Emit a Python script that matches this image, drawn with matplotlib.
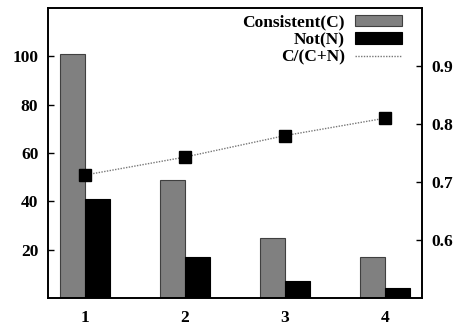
import matplotlib
matplotlib.use("Agg")
import matplotlib.pyplot as plt
import numpy as np
from matplotlib.lines import Line2D

groups = [1, 2, 3, 4]
consistent = [101, 49, 25, 17]
not_cons = [41, 17, 7, 4]
ratio = [0.712, 0.743, 0.78, 0.81]
left_ticks = [20, 40, 60, 80, 100]
right_ticks = [0.6, 0.7, 0.8, 0.9]

plt.rcParams['font.family'] = ['Liberation Serif', 'DejaVu Serif']
plt.rcParams['font.weight'] = 'bold'
plt.rcParams['font.size'] = 12.5

fig = plt.figure(figsize=(4.54, 3.26), dpi=100)
ax = fig.add_axes([48/454, 1-298/326, 374/454, 290/326])
x = np.array(groups, dtype=float)
w = 0.25
b1 = ax.bar(x - w/2, consistent, width=w, color='#808080', edgecolor='#404040', linewidth=0.8, label='Consistent(C)')
b2 = ax.bar(x + w/2, not_cons, width=w, color='black', edgecolor='black', linewidth=0.8, label='Not(N)')
ax.set_xlim(0.63, 4.37)
ax.set_ylim(0, 120)
ax.set_xticks(groups)
ax.set_xticklabels([str(g) for g in groups], fontweight='bold')
ax.set_yticks(left_ticks)
ax.tick_params(axis='y', direction='in', length=4, width=1, pad=7, labelsize=12.5)
ax.tick_params(axis='x', length=0, pad=9, labelsize=12.5)

ax2 = ax.twinx()
ax2.plot(x, ratio, color='#777777', linestyle=(0, (1, 1)), linewidth=1.0,
         marker='s', markersize=9, markerfacecolor='black', markeredgecolor='black',
         label='C/(C+N)')
ax2.set_ylim(0.5, 1.0)
ax2.set_yticks(right_ticks)
ax2.set_yticklabels(['0.6', '0.7', '0.8', '0.9'])
ax2.tick_params(axis='y', direction='in', length=4, width=1, pad=7, labelsize=12.5)

for a in (ax, ax2):
    for s in a.spines.values():
        s.set_linewidth(1.2)

line_handle = Line2D([], [], color='#777777', linestyle=(0, (1, 1)), linewidth=1.0)
leg = ax2.legend([b1, b2, line_handle], ['Consistent(C)', 'Not(N)', 'C/(C+N)'],
                 loc='upper right', bbox_to_anchor=(0.9465, 0.978), frameon=False,
                 markerfirst=False, borderpad=0, borderaxespad=0, labelspacing=0.1,
                 handlelength=2.7, handleheight=0.6, handletextpad=0.6,
                 prop={'weight': 'bold', 'size': 12.5})
fig.savefig('out.png', dpi=100)
